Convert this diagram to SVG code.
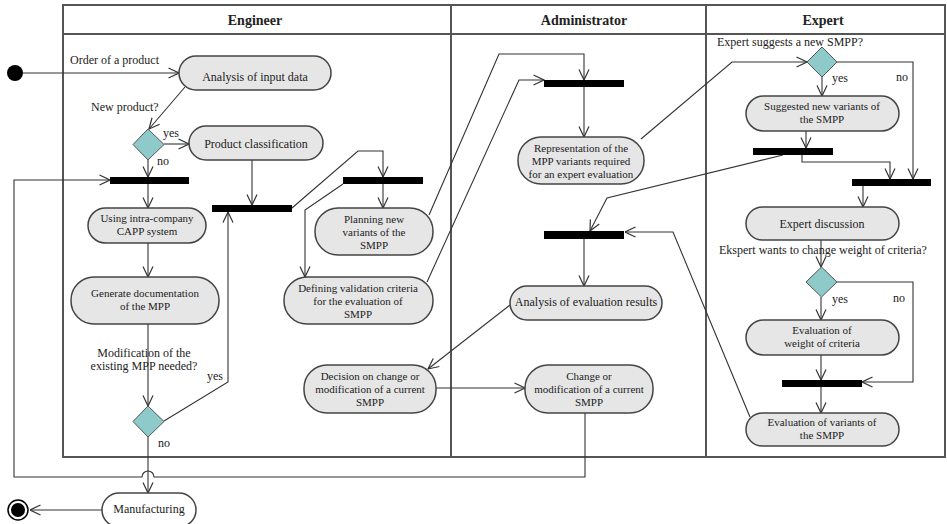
<svg xmlns="http://www.w3.org/2000/svg" width="947" height="524" viewBox="0 0 947 524">
  <style>
    text { font-family: "Liberation Serif", "Times New Roman", serif; fill: #222; }
    .hdr { font-size: 14px; font-weight: bold; text-anchor: middle; }
    .nt { font-size: 12px; text-anchor: middle; }
    .nm { font-size: 11px; text-anchor: middle; }
    .lb { font-size: 12px; }
    .lane { fill: none; stroke: #555; stroke-width: 2; }
    .act { fill: #e6e6e6; stroke: #444; stroke-width: 1.5; }
    .dec { fill: #8fcaca; stroke: #555; stroke-width: 1; }
    .bar { fill: #000; }
    .edge { fill: none; stroke: #333; stroke-width: 1.1; }
    .arr { marker-end: url(#open); }
  </style>
  <defs>
    <marker id="open" viewBox="0 0 12 12" refX="11.5" refY="6" markerWidth="12" markerHeight="12" markerUnits="userSpaceOnUse" orient="auto">
      <path d="M1,1 L11.5,6 L1,11" fill="none" stroke="#333" stroke-width="1.2"/>
    </marker>
  </defs>
  <rect width="947" height="524" fill="#fff"/>

  <!-- swimlanes -->
  <g id="lanes">
    <rect class="lane" x="63" y="5" width="882" height="452"/>
    <line class="lane" x1="63" y1="34" x2="945" y2="34"/>
    <line class="lane" x1="451" y1="5" x2="451" y2="457"/>
    <line class="lane" x1="706" y1="5" x2="706" y2="457"/>
    <text class="hdr" x="255" y="25">Engineer</text>
    <text class="hdr" x="584" y="25">Administrator</text>
    <text class="hdr" x="823" y="25">Expert</text>
  </g>

  <!-- connectors -->
  <g id="connectors">
    <line class="edge arr" x1="23" y1="73" x2="179" y2="73"/>
    <line class="edge arr" x1="185" y1="87" x2="149" y2="129"/>
    <line class="edge arr" x1="164" y1="144" x2="189" y2="144"/>
    <line class="edge arr" x1="148" y1="160" x2="148" y2="177"/>
    <line class="edge arr" x1="148" y1="184" x2="148" y2="208"/>
    <line class="edge arr" x1="148" y1="243" x2="148" y2="277"/>
    <line class="edge arr" x1="148" y1="324" x2="148" y2="406"/>
    <polyline class="edge arr" points="164,421 228,382 228,212"/>
    <line class="edge arr" x1="252" y1="160" x2="252" y2="205"/>
    <polyline class="edge arr" points="292,208 358,151 383,151 383,177"/>
    <line class="edge arr" x1="383" y1="184" x2="383" y2="208"/>
    <polyline class="edge arr" points="343,184 305,210 305,277"/>
    <polyline class="edge arr" points="429,215 499,54 584,54 584,80"/>
    <polyline class="edge arr" points="427,282 519,80 544,80"/>
    <line class="edge arr" x1="584" y1="87" x2="584" y2="137"/>
    <polyline class="edge arr" points="641,139 732,62 807,62"/>
    <line class="edge arr" x1="822" y1="77" x2="822" y2="96"/>
    <polyline class="edge arr" points="837,62 913,62 913,179"/>
    <line class="edge arr" x1="806" y1="131" x2="806" y2="148"/>
    <polyline class="edge arr" points="802,155 802,162 890,162 890,179"/>
    <polyline class="edge arr" points="783,155 607,198 590,231"/>
    <line class="edge arr" x1="863" y1="186" x2="863" y2="207"/>
    <line class="edge arr" x1="821" y1="240" x2="821" y2="267"/>
    <polyline class="edge arr" points="837,282 913,282 913,382 862,382"/>
    <line class="edge arr" x1="821" y1="297" x2="821" y2="320"/>
    <line class="edge arr" x1="821" y1="355" x2="821" y2="380"/>
    <line class="edge arr" x1="821" y1="387" x2="821" y2="413"/>
    <polyline class="edge arr" points="750,417 673,232 625,232"/>
    <line class="edge arr" x1="584" y1="239" x2="584" y2="286"/>
    <line class="edge arr" x1="510" y1="305" x2="428" y2="369"/>
    <line class="edge arr" x1="436" y1="388" x2="525" y2="388"/>
    <path class="edge arr" d="M585,413 V477 H154 A6,6 0 0 0 142,477 H14 V180 H110"/>
    <line class="edge arr" x1="148" y1="437" x2="148" y2="493"/>
    <line class="edge arr" x1="102" y1="510" x2="30" y2="510"/>
  </g>

  <!-- labels on flows -->
  <g id="labels">
    <text class="lb" x="70" y="64">Order of a product</text>
    <text class="lb" x="91" y="111">New product?</text>
    <text class="lb" x="163" y="137">yes</text>
    <text class="lb" x="157" y="165">no</text>
    <text class="lb" x="144" y="357" text-anchor="middle" font-size="11">Modification of the</text>
    <text class="lb" x="144" y="370" text-anchor="middle" font-size="11">existing MPP needed?</text>
    <text class="lb" x="207" y="380">yes</text>
    <text class="lb" x="158" y="447">no</text>
    <text class="lb" x="717" y="46">Expert suggests a new SMPP?</text>
    <text class="lb" x="832" y="82">yes</text>
    <text class="lb" x="896" y="81">no</text>
    <text class="lb" x="719" y="254">Ekspert wants to change weight of criteria?</text>
    <text class="lb" x="832" y="303">yes</text>
    <text class="lb" x="893" y="302">no</text>
  </g>

  <!-- start / end -->
  <g id="start"><circle cx="15" cy="73" r="8" fill="#000"/></g>
  <g id="end">
    <circle cx="18" cy="510" r="10" fill="#fff" stroke="#000" stroke-width="1.5"/>
    <circle cx="18" cy="510" r="7" fill="#000"/>
  </g>

  <!-- Engineer lane -->
  <g id="analysis-input">
    <rect class="act" x="179" y="56" width="152" height="34" rx="17"/>
    <text class="nt" x="255" y="81">Analysis of input data</text>
  </g>
  <g id="new-product"><polygon class="dec" points="148,129 164,144.5 148,160 133,144.5"/></g>
  <g id="product-classification">
    <rect class="act" x="189" y="126" width="134" height="34" rx="17"/>
    <text class="nt" x="256" y="148">Product classification</text>
  </g>
  <g id="join-1"><rect class="bar" x="110" y="177" width="79" height="7"/></g>
  <g id="join-2"><rect class="bar" x="212" y="205" width="80" height="7"/></g>
  <g id="fork-3"><rect class="bar" x="343" y="177" width="80" height="7"/></g>
  <g id="capp">
    <rect class="act" x="88" y="208" width="118" height="35" rx="17.5"/>
    <text class="nm" x="147" y="222">Using intra-company</text>
    <text class="nm" x="147" y="235">CAPP system</text>
  </g>
  <g id="generate-doc">
    <rect class="act" x="71" y="277" width="148" height="47" rx="23"/>
    <text class="nm" x="145" y="297">Generate documentation</text>
    <text class="nm" x="145" y="310">of the MPP</text>
  </g>
  <g id="modification-needed"><polygon class="dec" points="148,406 164,421.5 148,437 133,421.5"/></g>
  <g id="planning">
    <rect class="act" x="315" y="208" width="118" height="47" rx="23"/>
    <text class="nm" x="374" y="223">Planning new</text>
    <text class="nm" x="374" y="236">variants of the</text>
    <text class="nm" x="374" y="249">SMPP</text>
  </g>
  <g id="defining-criteria">
    <rect class="act" x="284" y="277" width="149" height="47" rx="23"/>
    <text class="nm" x="358" y="292">Defining validation criteria</text>
    <text class="nm" x="358" y="305">for the evaluation of</text>
    <text class="nm" x="358" y="318">SMPP</text>
  </g>
  <g id="decision-change">
    <rect class="act" x="304" y="365" width="132" height="48" rx="23"/>
    <text class="nm" x="370" y="380">Decision on change or</text>
    <text class="nm" x="370" y="393">modification of a current</text>
    <text class="nm" x="370" y="406">SMPP</text>
  </g>
  <g id="manufacturing">
    <rect x="102" y="493" width="94" height="34" rx="17" fill="#fff" stroke="#444" stroke-width="1.5"/>
    <text class="nt" x="149" y="513">Manufacturing</text>
  </g>

  <!-- Administrator lane -->
  <g id="join-4"><rect class="bar" x="544" y="80" width="80" height="7"/></g>
  <g id="representation">
    <rect class="act" x="518" y="137" width="126" height="47" rx="23"/>
    <text class="nm" x="581" y="152">Representation of the</text>
    <text class="nm" x="581" y="165">MPP variants required</text>
    <text class="nm" x="581" y="178">for an expert evaluation</text>
  </g>
  <g id="join-7"><rect class="bar" x="544" y="231" width="80" height="8"/></g>
  <g id="analysis-results">
    <rect class="act" x="510" y="286" width="152" height="34" rx="17"/>
    <text class="nt" x="586" y="306">Analysis of evaluation results</text>
  </g>
  <g id="change-smpp">
    <rect class="act" x="525" y="365" width="128" height="48" rx="23"/>
    <text class="nm" x="589" y="380">Change or</text>
    <text class="nm" x="589" y="393">modification of a current</text>
    <text class="nm" x="589" y="406">SMPP</text>
  </g>

  <!-- Expert lane -->
  <g id="suggests-new"><polygon class="dec" points="822,47 837,62 822,77 807,62"/></g>
  <g id="suggested-variants">
    <rect class="act" x="746" y="96" width="153" height="35" rx="17.5"/>
    <text class="nm" x="822" y="110">Suggested new variants of</text>
    <text class="nm" x="822" y="123">the SMPP</text>
  </g>
  <g id="fork-5"><rect class="bar" x="753" y="148" width="80" height="7"/></g>
  <g id="join-6"><rect class="bar" x="852" y="179" width="79" height="7"/></g>
  <g id="expert-discussion">
    <rect class="act" x="746" y="207" width="153" height="33" rx="16.5"/>
    <text class="nt" x="822" y="228">Expert discussion</text>
  </g>
  <g id="change-weight"><polygon class="dec" points="821.5,267 837,282 821.5,297 806,282"/></g>
  <g id="evaluation-weight">
    <rect class="act" x="746" y="320" width="153" height="35" rx="17.5"/>
    <text class="nm" x="822" y="334">Evaluation of</text>
    <text class="nm" x="822" y="347">weight of criteria</text>
  </g>
  <g id="join-8"><rect class="bar" x="782" y="380" width="80" height="7"/></g>
  <g id="evaluation-variants">
    <rect class="act" x="746" y="413" width="153" height="33" rx="16.5"/>
    <text class="nm" x="822" y="426">Evaluation of variants of</text>
    <text class="nm" x="822" y="439">the SMPP</text>
  </g>
</svg>
